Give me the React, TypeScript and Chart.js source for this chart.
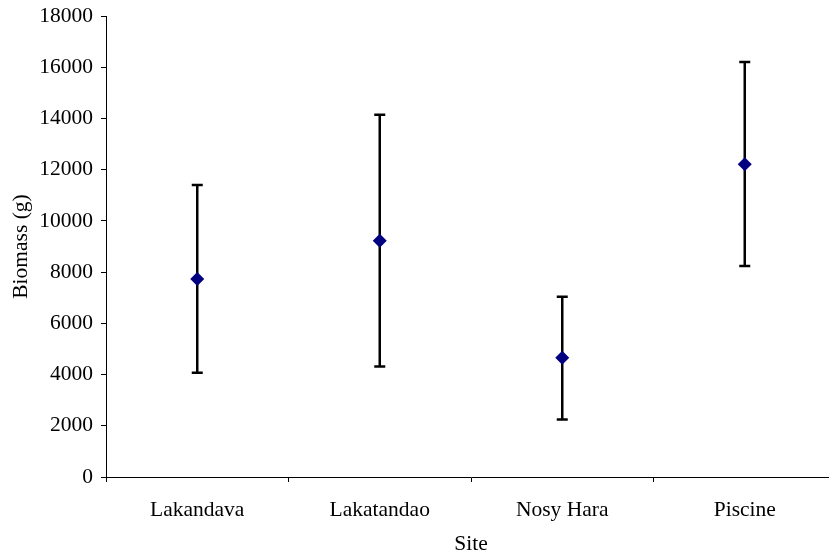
import React, { useEffect, useRef } from "react";
import { Chart, registerables } from "chart.js";

Chart.register(...registerables);

const sites = ["Lakandava", "Lakatandao", "Nosy Hara", "Piscine"];
const meanBiomass = [7730, 9220, 4660, 12215];
const upperBiomass = [11400, 14140, 7040, 16200];
const lowerBiomass = [4070, 4310, 2250, 8240];
const yMin = 0;
const yMax = 18000;
const yStep = 2000;

const FONT = "'Liberation Serif', 'Times New Roman', serif";

const errorBarsPlugin = {
  id: "errorBars",
  beforeDatasetsDraw(chart: any) {
    const { ctx } = chart;
    const x = chart.scales.x;
    const y = chart.scales.y;
    ctx.save();
    ctx.strokeStyle = "#000000";
    ctx.lineWidth = 2.5;
    ctx.lineCap = "butt";
    sites.forEach((_, i) => {
      const px = x.getPixelForValue(i);
      const top = y.getPixelForValue(upperBiomass[i]);
      const bot = y.getPixelForValue(lowerBiomass[i]);
      const half = 5.5;
      ctx.beginPath();
      ctx.moveTo(px, top);
      ctx.lineTo(px, bot);
      ctx.moveTo(px - half, top);
      ctx.lineTo(px + half, top);
      ctx.moveTo(px - half, bot);
      ctx.lineTo(px + half, bot);
      ctx.stroke();
    });
    ctx.restore();
  },
};

export default function App() {
  const ref = useRef<HTMLCanvasElement | null>(null);

  useEffect(() => {
    if (!ref.current) return;
    const chart = new Chart(ref.current, {
      type: "line",
      data: {
        labels: sites,
        datasets: [
          {
            data: meanBiomass,
            showLine: false,
            pointStyle: "rectRot",
            pointRadius: 7,
            pointHoverRadius: 7,
            backgroundColor: "#000080",
            borderColor: "#000080",
            pointBorderWidth: 0,
          },
        ],
      },
      options: {
        responsive: false,
        animation: false,
        devicePixelRatio: 1,
        layout: { padding: { top: 16, right: 9, left: 0, bottom: 0 } },
        plugins: {
          legend: { display: false },
          tooltip: { enabled: false },
        },
        scales: {
          x: {
            type: "category",
            offset: true,
            afterFit: (s: any) => {
              s.height = 77;
              s.paddingLeft = 0;
              s.paddingRight = 0;
            },
            grid: {
              offset: true,
              drawOnChartArea: false,
              drawTicks: true,
              tickLength: 5,
              color: "#000000",
            },
            border: { color: "#000000", width: 1 },
            ticks: {
              color: "#000000",
              font: { family: FONT, size: 21.5 },
              padding: 15,
              maxRotation: 0,
            },
            title: {
              display: true,
              text: "Site",
              color: "#000000",
              font: { family: FONT, size: 21.5 },
              padding: { top: 0, bottom: -3 },
            },
          },
          y: {
            min: yMin,
            max: yMax,
            afterFit: (s: any) => {
              s.width = 106;
              s.paddingTop = 0;
              s.paddingBottom = 0;
            },
            grid: {
              drawOnChartArea: false,
              drawTicks: true,
              tickLength: 5,
              color: "#000000",
            },
            border: { color: "#000000", width: 1 },
            ticks: {
              stepSize: yStep,
              color: "#000000",
              font: { family: FONT, size: 21.5 },
              padding: 8,
              callback: (v: any) => String(v),
            },
            title: {
              display: true,
              text: "Biomass (g)",
              color: "#000000",
              font: { family: FONT, size: 21.5 },
              padding: { top: 8, bottom: 0 },
            },
          },
        },
      },
      plugins: [errorBarsPlugin],
    });
    return () => chart.destroy();
  }, []);

  return (
    <div
      style={{
        position: "absolute",
        left: 0,
        top: 0,
        width: 829,
        height: 554,
        overflow: "hidden",
        background: "#ffffff",
      }}
    >
      <canvas ref={ref} width={845} height={554} style={{ width: 845, height: 554, display: "block" }} />
    </div>
  );
}
